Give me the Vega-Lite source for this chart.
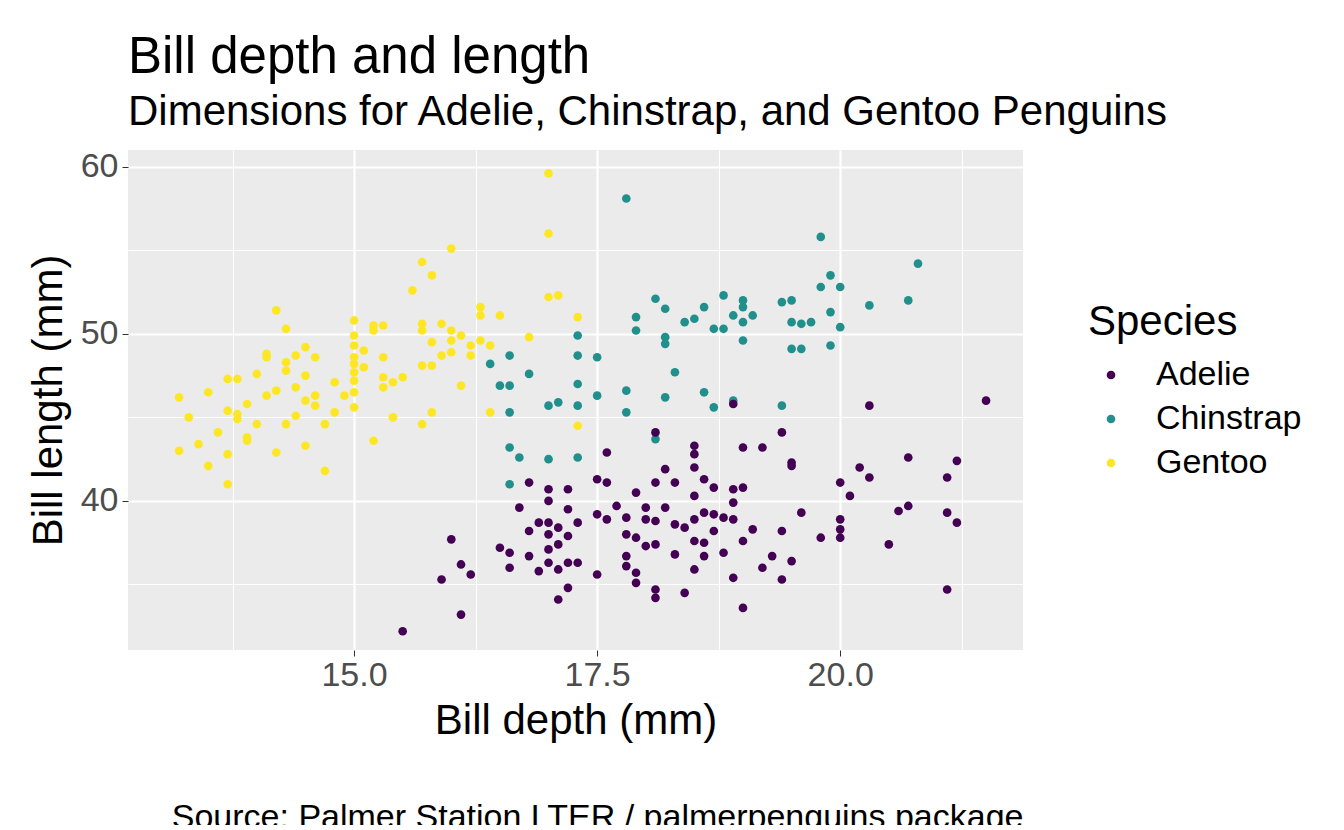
{
  "$schema": "https://vega.github.io/schema/vega-lite/v6.json",
  "autosize": {"type": "none"},
  "padding": {"left": 128, "top": 150, "right": 321, "bottom": 175},
  "width": 895,
  "height": 500,
  "config": {
    "font": "Liberation Sans",
    "view": {"fill": "#EBEBEB", "stroke": null}
  },
  "title": {
    "text": "Bill depth and length",
    "subtitle": "Dimensions for Adelie, Chinstrap, and Gentoo Penguins",
    "anchor": "start",
    "frame": "group",
    "fontSize": 51,
    "fontWeight": "normal",
    "subtitleFontSize": 42,
    "subtitleColor": "black",
    "subtitlePadding": 8,
    "offset": 16
  },
  "data": {"values": [
    {"s":"Gentoo","d":13.2,"l":43.0},{"s":"Gentoo","d":13.2,"l":46.2},{"s":"Gentoo","d":13.3,"l":45.0},{"s":"Gentoo","d":13.4,"l":43.4},{"s":"Gentoo","d":13.5,"l":46.5},{"s":"Gentoo","d":13.5,"l":42.1},{"s":"Gentoo","d":13.6,"l":44.1},{"s":"Gentoo","d":13.7,"l":45.4},{"s":"Gentoo","d":13.7,"l":47.3},{"s":"Gentoo","d":13.7,"l":42.8},{"s":"Gentoo","d":13.7,"l":41.0},{"s":"Gentoo","d":13.8,"l":47.3},{"s":"Gentoo","d":13.8,"l":45.2},{"s":"Gentoo","d":13.8,"l":44.9},{"s":"Gentoo","d":13.9,"l":45.8},{"s":"Gentoo","d":13.9,"l":43.8},{"s":"Gentoo","d":13.9,"l":43.6},{"s":"Gentoo","d":14.0,"l":47.6},{"s":"Gentoo","d":14.0,"l":44.6},{"s":"Gentoo","d":14.1,"l":46.3},{"s":"Gentoo","d":14.1,"l":48.8},{"s":"Gentoo","d":14.1,"l":48.6},{"s":"Gentoo","d":14.2,"l":51.4},{"s":"Gentoo","d":14.2,"l":46.6},{"s":"Gentoo","d":14.2,"l":42.9},{"s":"Gentoo","d":14.3,"l":50.3},{"s":"Gentoo","d":14.3,"l":47.8},{"s":"Gentoo","d":14.3,"l":44.6},{"s":"Gentoo","d":14.3,"l":48.3},{"s":"Gentoo","d":14.4,"l":48.7},{"s":"Gentoo","d":14.4,"l":46.8},{"s":"Gentoo","d":14.4,"l":45.1},{"s":"Gentoo","d":14.5,"l":49.2},{"s":"Gentoo","d":14.5,"l":47.5},{"s":"Gentoo","d":14.5,"l":46.0},{"s":"Gentoo","d":14.5,"l":43.3},{"s":"Gentoo","d":14.6,"l":48.6},{"s":"Gentoo","d":14.6,"l":46.3},{"s":"Gentoo","d":14.6,"l":45.7},{"s":"Gentoo","d":14.7,"l":44.6},{"s":"Gentoo","d":14.7,"l":41.8},{"s":"Gentoo","d":14.8,"l":45.3},{"s":"Gentoo","d":14.8,"l":47.1},{"s":"Gentoo","d":14.9,"l":46.3},{"s":"Gentoo","d":15.0,"l":50.8},{"s":"Gentoo","d":15.0,"l":49.9},{"s":"Gentoo","d":15.0,"l":49.3},{"s":"Gentoo","d":15.0,"l":48.6},{"s":"Gentoo","d":15.0,"l":48.2},{"s":"Gentoo","d":15.0,"l":47.7},{"s":"Gentoo","d":15.0,"l":47.2},{"s":"Gentoo","d":15.0,"l":46.5},{"s":"Gentoo","d":15.0,"l":45.6},{"s":"Gentoo","d":15.1,"l":49.0},{"s":"Gentoo","d":15.1,"l":48.0},{"s":"Gentoo","d":15.2,"l":50.5},{"s":"Gentoo","d":15.2,"l":50.2},{"s":"Gentoo","d":15.2,"l":43.6},{"s":"Gentoo","d":15.3,"l":50.5},{"s":"Gentoo","d":15.3,"l":48.6},{"s":"Gentoo","d":15.3,"l":47.4},{"s":"Gentoo","d":15.3,"l":46.8},{"s":"Gentoo","d":15.4,"l":45.0},{"s":"Gentoo","d":15.4,"l":47.1},{"s":"Gentoo","d":15.5,"l":47.4},{"s":"Gentoo","d":15.6,"l":52.6},{"s":"Gentoo","d":15.7,"l":54.3},{"s":"Gentoo","d":15.7,"l":50.6},{"s":"Gentoo","d":15.7,"l":50.2},{"s":"Gentoo","d":15.7,"l":48.1},{"s":"Gentoo","d":15.7,"l":44.6},{"s":"Gentoo","d":15.8,"l":53.5},{"s":"Gentoo","d":15.8,"l":49.5},{"s":"Gentoo","d":15.8,"l":48.1},{"s":"Gentoo","d":15.8,"l":45.3},{"s":"Gentoo","d":15.9,"l":50.6},{"s":"Gentoo","d":15.9,"l":48.7},{"s":"Gentoo","d":16.0,"l":55.1},{"s":"Gentoo","d":16.0,"l":50.2},{"s":"Gentoo","d":16.0,"l":49.6},{"s":"Gentoo","d":16.0,"l":48.9},{"s":"Gentoo","d":16.1,"l":49.9},{"s":"Gentoo","d":16.1,"l":46.9},{"s":"Gentoo","d":16.2,"l":49.3},{"s":"Gentoo","d":16.2,"l":48.7},{"s":"Gentoo","d":16.3,"l":51.6},{"s":"Gentoo","d":16.3,"l":51.1},{"s":"Gentoo","d":16.3,"l":49.6},{"s":"Gentoo","d":16.4,"l":49.3},{"s":"Gentoo","d":16.4,"l":45.3},{"s":"Gentoo","d":16.5,"l":51.1},{"s":"Gentoo","d":16.8,"l":49.8},{"s":"Gentoo","d":17.0,"l":59.6},{"s":"Gentoo","d":17.0,"l":56.0},{"s":"Gentoo","d":17.0,"l":52.2},{"s":"Gentoo","d":17.1,"l":52.3},{"s":"Gentoo","d":17.3,"l":51.0},{"s":"Gentoo","d":17.3,"l":44.5},
    {"s":"Chinstrap","d":16.4,"l":48.2},{"s":"Chinstrap","d":16.5,"l":46.9},{"s":"Chinstrap","d":16.6,"l":48.7},{"s":"Chinstrap","d":16.6,"l":46.9},{"s":"Chinstrap","d":16.6,"l":45.3},{"s":"Chinstrap","d":16.6,"l":43.2},{"s":"Chinstrap","d":16.6,"l":41.0},{"s":"Chinstrap","d":16.7,"l":42.6},{"s":"Chinstrap","d":16.8,"l":47.6},{"s":"Chinstrap","d":17.0,"l":45.7},{"s":"Chinstrap","d":17.0,"l":42.5},{"s":"Chinstrap","d":17.1,"l":45.9},{"s":"Chinstrap","d":17.3,"l":49.9},{"s":"Chinstrap","d":17.3,"l":48.7},{"s":"Chinstrap","d":17.3,"l":47.0},{"s":"Chinstrap","d":17.3,"l":45.7},{"s":"Chinstrap","d":17.3,"l":42.6},{"s":"Chinstrap","d":17.5,"l":48.6},{"s":"Chinstrap","d":17.5,"l":46.3},{"s":"Chinstrap","d":17.8,"l":58.1},{"s":"Chinstrap","d":17.8,"l":46.6},{"s":"Chinstrap","d":17.8,"l":45.3},{"s":"Chinstrap","d":17.9,"l":51.0},{"s":"Chinstrap","d":17.9,"l":50.2},{"s":"Chinstrap","d":18.1,"l":52.1},{"s":"Chinstrap","d":18.1,"l":43.7},{"s":"Chinstrap","d":18.2,"l":51.5},{"s":"Chinstrap","d":18.2,"l":49.8},{"s":"Chinstrap","d":18.2,"l":49.4},{"s":"Chinstrap","d":18.2,"l":46.2},{"s":"Chinstrap","d":18.3,"l":47.7},{"s":"Chinstrap","d":18.4,"l":50.7},{"s":"Chinstrap","d":18.5,"l":50.9},{"s":"Chinstrap","d":18.6,"l":46.5},{"s":"Chinstrap","d":18.6,"l":51.6},{"s":"Chinstrap","d":18.7,"l":45.6},{"s":"Chinstrap","d":18.7,"l":50.3},{"s":"Chinstrap","d":18.8,"l":52.3},{"s":"Chinstrap","d":18.8,"l":50.3},{"s":"Chinstrap","d":18.9,"l":46.0},{"s":"Chinstrap","d":18.9,"l":51.1},{"s":"Chinstrap","d":19.0,"l":52.0},{"s":"Chinstrap","d":19.0,"l":51.6},{"s":"Chinstrap","d":19.0,"l":50.7},{"s":"Chinstrap","d":19.0,"l":49.6},{"s":"Chinstrap","d":19.1,"l":51.1},{"s":"Chinstrap","d":19.4,"l":51.9},{"s":"Chinstrap","d":19.4,"l":45.7},{"s":"Chinstrap","d":19.5,"l":50.7},{"s":"Chinstrap","d":19.5,"l":49.1},{"s":"Chinstrap","d":19.5,"l":52.0},{"s":"Chinstrap","d":19.6,"l":50.6},{"s":"Chinstrap","d":19.6,"l":49.1},{"s":"Chinstrap","d":19.7,"l":50.7},{"s":"Chinstrap","d":19.8,"l":55.8},{"s":"Chinstrap","d":19.8,"l":52.8},{"s":"Chinstrap","d":19.9,"l":49.3},{"s":"Chinstrap","d":19.9,"l":51.3},{"s":"Chinstrap","d":19.9,"l":53.5},{"s":"Chinstrap","d":20.0,"l":52.8},{"s":"Chinstrap","d":20.0,"l":50.4},{"s":"Chinstrap","d":20.3,"l":51.7},{"s":"Chinstrap","d":20.7,"l":52.0},{"s":"Chinstrap","d":20.8,"l":54.2},
    {"s":"Adelie","d":15.5,"l":32.2},{"s":"Adelie","d":15.9,"l":35.3},{"s":"Adelie","d":16.0,"l":37.7},{"s":"Adelie","d":16.1,"l":36.2},{"s":"Adelie","d":16.1,"l":33.2},{"s":"Adelie","d":16.2,"l":35.6},{"s":"Adelie","d":16.5,"l":37.2},{"s":"Adelie","d":16.6,"l":36.9},{"s":"Adelie","d":16.6,"l":36.0},{"s":"Adelie","d":16.7,"l":39.6},{"s":"Adelie","d":16.8,"l":41.1},{"s":"Adelie","d":16.8,"l":38.2},{"s":"Adelie","d":16.8,"l":36.7},{"s":"Adelie","d":16.9,"l":38.7},{"s":"Adelie","d":16.9,"l":35.8},{"s":"Adelie","d":17.0,"l":40.7},{"s":"Adelie","d":17.0,"l":40.0},{"s":"Adelie","d":17.0,"l":38.7},{"s":"Adelie","d":17.0,"l":38.0},{"s":"Adelie","d":17.0,"l":37.1},{"s":"Adelie","d":17.0,"l":36.3},{"s":"Adelie","d":17.1,"l":35.9},{"s":"Adelie","d":17.1,"l":34.1},{"s":"Adelie","d":17.1,"l":38.4},{"s":"Adelie","d":17.1,"l":37.4},{"s":"Adelie","d":17.2,"l":40.7},{"s":"Adelie","d":17.2,"l":39.5},{"s":"Adelie","d":17.2,"l":37.9},{"s":"Adelie","d":17.2,"l":36.3},{"s":"Adelie","d":17.2,"l":34.8},{"s":"Adelie","d":17.3,"l":38.7},{"s":"Adelie","d":17.3,"l":36.3},{"s":"Adelie","d":17.5,"l":41.3},{"s":"Adelie","d":17.5,"l":39.2},{"s":"Adelie","d":17.5,"l":35.6},{"s":"Adelie","d":17.6,"l":42.9},{"s":"Adelie","d":17.6,"l":41.1},{"s":"Adelie","d":17.6,"l":38.9},{"s":"Adelie","d":17.7,"l":39.7},{"s":"Adelie","d":17.8,"l":39.0},{"s":"Adelie","d":17.8,"l":38.0},{"s":"Adelie","d":17.8,"l":36.7},{"s":"Adelie","d":17.8,"l":36.1},{"s":"Adelie","d":17.9,"l":40.5},{"s":"Adelie","d":17.9,"l":37.8},{"s":"Adelie","d":17.9,"l":35.7},{"s":"Adelie","d":17.9,"l":35.1},{"s":"Adelie","d":18.0,"l":39.6},{"s":"Adelie","d":18.0,"l":38.9},{"s":"Adelie","d":18.0,"l":37.3},{"s":"Adelie","d":18.1,"l":44.1},{"s":"Adelie","d":18.1,"l":41.1},{"s":"Adelie","d":18.1,"l":38.8},{"s":"Adelie","d":18.1,"l":37.4},{"s":"Adelie","d":18.1,"l":34.7},{"s":"Adelie","d":18.1,"l":34.2},{"s":"Adelie","d":18.2,"l":41.9},{"s":"Adelie","d":18.2,"l":39.6},{"s":"Adelie","d":18.3,"l":41.1},{"s":"Adelie","d":18.3,"l":38.6},{"s":"Adelie","d":18.3,"l":36.8},{"s":"Adelie","d":18.4,"l":38.4},{"s":"Adelie","d":18.4,"l":34.5},{"s":"Adelie","d":18.5,"l":43.3},{"s":"Adelie","d":18.5,"l":42.8},{"s":"Adelie","d":18.5,"l":42.0},{"s":"Adelie","d":18.5,"l":40.3},{"s":"Adelie","d":18.5,"l":38.9},{"s":"Adelie","d":18.5,"l":37.6},{"s":"Adelie","d":18.5,"l":35.9},{"s":"Adelie","d":18.6,"l":41.3},{"s":"Adelie","d":18.6,"l":39.3},{"s":"Adelie","d":18.6,"l":37.5},{"s":"Adelie","d":18.6,"l":36.7},{"s":"Adelie","d":18.7,"l":40.8},{"s":"Adelie","d":18.7,"l":39.2},{"s":"Adelie","d":18.7,"l":38.2},{"s":"Adelie","d":18.8,"l":39.0},{"s":"Adelie","d":18.8,"l":36.9},{"s":"Adelie","d":18.9,"l":45.8},{"s":"Adelie","d":18.9,"l":40.7},{"s":"Adelie","d":18.9,"l":39.9},{"s":"Adelie","d":18.9,"l":38.9},{"s":"Adelie","d":18.9,"l":35.4},{"s":"Adelie","d":19.0,"l":40.8},{"s":"Adelie","d":19.0,"l":43.2},{"s":"Adelie","d":19.0,"l":33.6},{"s":"Adelie","d":19.0,"l":37.6},{"s":"Adelie","d":19.1,"l":38.3},{"s":"Adelie","d":19.2,"l":43.2},{"s":"Adelie","d":19.2,"l":36.0},{"s":"Adelie","d":19.3,"l":36.7},{"s":"Adelie","d":19.4,"l":35.3},{"s":"Adelie","d":19.4,"l":38.2},{"s":"Adelie","d":19.4,"l":44.1},{"s":"Adelie","d":19.5,"l":42.3},{"s":"Adelie","d":19.5,"l":42.1},{"s":"Adelie","d":19.5,"l":36.4},{"s":"Adelie","d":19.6,"l":39.3},{"s":"Adelie","d":19.8,"l":37.8},{"s":"Adelie","d":20.0,"l":41.1},{"s":"Adelie","d":20.0,"l":38.9},{"s":"Adelie","d":20.0,"l":38.3},{"s":"Adelie","d":20.0,"l":37.8},{"s":"Adelie","d":20.1,"l":40.3},{"s":"Adelie","d":20.2,"l":42.0},{"s":"Adelie","d":20.3,"l":45.7},{"s":"Adelie","d":20.3,"l":41.4},{"s":"Adelie","d":20.5,"l":37.4},{"s":"Adelie","d":20.6,"l":39.4},{"s":"Adelie","d":20.7,"l":42.6},{"s":"Adelie","d":20.7,"l":39.7},{"s":"Adelie","d":21.1,"l":41.4},{"s":"Adelie","d":21.1,"l":39.3},{"s":"Adelie","d":21.1,"l":34.7},{"s":"Adelie","d":21.2,"l":42.4},{"s":"Adelie","d":21.2,"l":38.7},{"s":"Adelie","d":21.5,"l":46.0}
  ]},
  "resolve": {"axis": {"x": "independent"}},
  "layer": [
    {
      "mark": {"type": "point", "filled": true, "opacity": 1, "size": 75},
      "encoding": {
        "x": {
          "field": "d", "type": "quantitative",
          "scale": {"domain": [12.675, 21.88], "nice": false, "zero": false},
          "axis": {
            "title": "Bill depth (mm)", "titleFontSize": 42, "titleFontWeight": "normal", "titleColor": "black", "titlePadding": 8,
            "values": [13.75, 15, 16.25, 17.5, 18.75, 20, 21.25],
            "labelExpr": "datum.value % 2.5 == 0 ? format(datum.value, '.1f') : ''",
            "labelFontSize": 34, "labelColor": "#4D4D4D", "labelPadding": 2,
            "domain": false, "tickColor": "#333333",
            "tickSize": {"condition": {"test": "datum.value % 2.5 == 0", "value": 6}, "value": 0},
            "gridColor": "white",
            "gridWidth": {"condition": {"test": "datum.value % 2.5 == 0", "value": 2.2}, "value": 1.1}
          }
        },
        "y": {
          "field": "l", "type": "quantitative",
          "scale": {"domain": [31.08, 61.0], "nice": false, "zero": false},
          "axis": {
            "title": "Bill length (mm)", "titleFontSize": 42, "titleFontWeight": "normal", "titleColor": "black", "titlePadding": 10,
            "values": [35, 40, 45, 50, 55, 60],
            "labelExpr": "datum.value % 10 == 0 ? datum.label : ''",
            "labelFontSize": 34, "labelColor": "#4D4D4D", "labelPadding": 4,
            "domain": false, "tickColor": "#333333",
            "tickSize": {"condition": {"test": "datum.value % 10 == 0", "value": 6}, "value": 0},
            "gridColor": "white",
            "gridWidth": {"condition": {"test": "datum.value % 10 == 0", "value": 2.2}, "value": 1.1}
          }
        },
        "color": {
          "field": "s", "type": "nominal", "title": "Species",
          "scale": {"domain": ["Adelie", "Chinstrap", "Gentoo"], "range": ["#440154", "#21908C", "#FDE725"]},
          "legend": {
            "orient": "none", "legendX": 960, "legendY": 152,
            "titleFontSize": 42, "titleFontWeight": "normal", "titleColor": "black", "titlePadding": 14,
            "labelFontSize": 34, "labelColor": "black", "labelOffset": 28,
            "symbolType": "circle", "symbolSize": 75, "rowPadding": 10,
            "symbolOffset": 6
          }
        }
      }
    },
    {
      "mark": {"type": "point", "opacity": 0},
      "encoding": {
        "x": {
          "field": "d", "type": "quantitative",
          "axis": {
            "orient": "bottom", "offset": 0,
            "labels": false, "ticks": false, "domain": false, "grid": false,
            "title": "Source: Palmer Station LTER / palmerpenguins package",
            "titleAnchor": "end", "titleFontSize": 34, "titleFontWeight": "normal", "titleColor": "black",
            "titleY": 150
          }
        }
      }
    }
  ]
}
